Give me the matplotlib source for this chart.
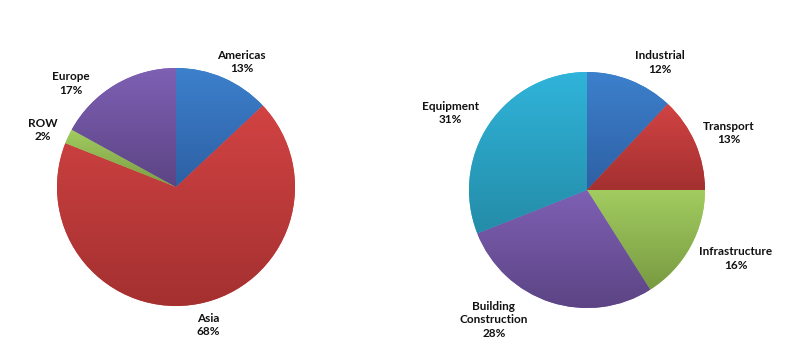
import numpy as np
import matplotlib
matplotlib.use("Agg")
import matplotlib.pyplot as plt
from matplotlib.colors import LinearSegmentedColormap

# ---- data ----
region_labels = ["Americas", "Asia", "ROW", "Europe"]
region_values = [13, 68, 2, 17]

sector_labels = ["Industrial", "Transport", "Infrastructure", "Building\nConstruction", "Equipment"]
sector_values = [12, 13, 16, 28, 31]

# ---- styles ----
region_light = ["#3d80cc", "#d24343", "#a2cc60", "#7e60b4"]
region_dark = ["#2d60a4", "#a43030", "#7b9c44", "#5c4484"]
sector_light = ["#3d80cc", "#d24343", "#a2cc60", "#7e60b4", "#30b4da"]
sector_dark = ["#2d60a4", "#a43030", "#789a42", "#5c4484", "#248ca8"]

# label offsets in units of radius (layout)
region_label_pos = [(0.55, 1.05), (0.27, -1.16), (-1.12, 0.48), (-0.88, 0.87)]
sector_label_pos = [(0.62, 1.08), (1.20, 0.48), (1.26, -0.58), (-0.79, -1.10), (-1.16, 0.65)]

W, H = 800, 361
fig = plt.figure(figsize=(W / 100, H / 100), dpi=100)
ax = fig.add_axes([0, 0, 1, 1])
ax.set_xlim(0, W)
ax.set_ylim(0, H)
ax.set_aspect("equal")
ax.axis("off")


def draw_pie(values, labels, light, dark, center, radius, label_pos):
    wedges, _ = ax.pie(values, center=center, radius=radius, startangle=90,
                       counterclock=False, frame=True,
                       wedgeprops=dict(linewidth=0))
    for w, lc, dc in zip(wedges, light, dark):
        w.set_facecolor(lc)
        ext = w.get_path().get_extents()
        cmap = LinearSegmentedColormap.from_list("g", [lc, dc])
        grad = np.linspace(0, 1, 256).reshape(-1, 1)
        im = ax.imshow(grad, cmap=cmap, extent=(ext.x0, ext.x1, ext.y0, ext.y1),
                       origin="upper", aspect="auto", interpolation="bilinear",
                       zorder=w.get_zorder() + 0.1)
        im.set_clip_path(w)
    for lab, v, (dx, dy) in zip(labels, values, label_pos):
        ax.text(center[0] + dx * radius, center[1] + dy * radius, f"{lab}\n{v}%",
                ha="center", va="center", fontsize=8.5, fontweight="bold",
                family=["Lato", "DejaVu Sans"], color="#111111", linespacing=1.25)


draw_pie(region_values, region_labels, region_light, region_dark, (176, 174), 119, region_label_pos)
draw_pie(sector_values, sector_labels, sector_light, sector_dark, (587, 171), 118, sector_label_pos)

ax.set_xlim(0, W)
ax.set_ylim(0, H)
ax.axis("off")
fig.savefig("out.png", dpi=100, facecolor="white")
